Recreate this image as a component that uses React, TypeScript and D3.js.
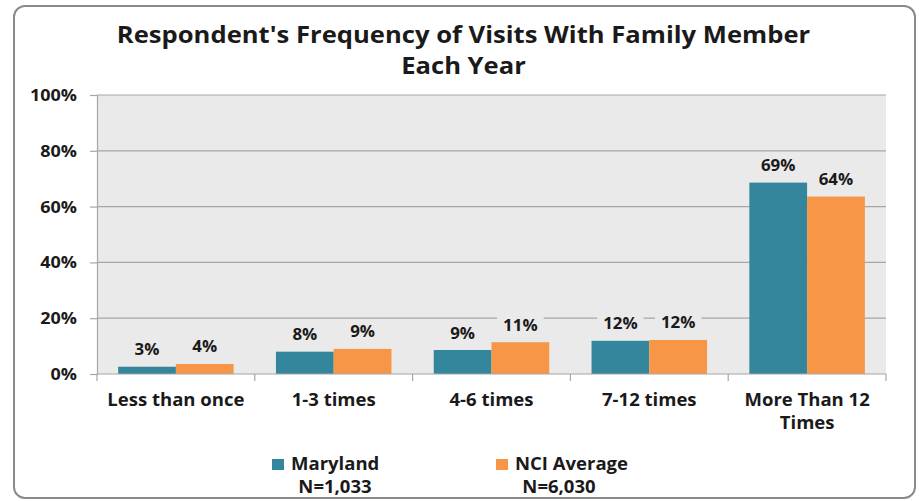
import { useEffect, useRef } from 'react';
import * as d3 from 'd3';

const categories = ['Less than once', '1-3 times', '4-6 times', '7-12 times', 'More Than 12 Times'];
const seriesNames = ['Maryland', 'NCI Average'];
const seriesN = ['N=1,033', 'N=6,030'];
const maryland = [0.026, 0.08, 0.086, 0.119, 0.686];
const nciAverage = [0.036, 0.09, 0.114, 0.122, 0.636];
const yTicks = [0, 0.2, 0.4, 0.6, 0.8, 1.0];
const titleLines = ["Respondent's Frequency of Visits With Family Member", 'Each Year'];

const colors = ['#34869c', '#f79646'];
const FONT = '"Open Sans", "DejaVu Sans", sans-serif';
const SX = 1.09; // the source text is a little wider than Open Sans

type Sel = d3.Selection<any, any, any, any>;

// bold label, stretched horizontally around its anchor point
function label(parent: Sel, x: number, y: number, txt: string, size: number, anchor = 'middle') {
  const g = parent.append('g').attr('transform', `translate(${x},${y}) scale(${SX},1)`);
  const t = g.append('text')
    .attr('text-anchor', anchor)
    .attr('font-family', FONT).attr('font-weight', 700).attr('font-size', size)
    .attr('fill', '#1a1a1a').text(txt);
  return { g, t };
}

export default function App() {
  const ref = useRef<SVGSVGElement>(null);

  useEffect(() => {
    if (!ref.current) return;
    const W = 919, H = 501;
    const plot = { left: 97, right: 886, top: 95, bottom: 374 };

    const svg = d3.select(ref.current);
    svg.selectAll('*').remove();
    svg.attr('width', W).attr('height', H).attr('viewBox', `0 0 ${W} ${H}`);

    // outer frame
    svg.append('rect')
      .attr('x', 14).attr('y', 6).attr('width', 901).attr('height', 492)
      .attr('rx', 11).attr('fill', '#fff').attr('stroke', '#8a8a8a').attr('stroke-width', 2);

    // title
    titleLines.forEach((t, i) => label(svg, 463.5, 43 + i * 31, t, 23.5));

    const x0 = d3.scaleBand<string>().domain(categories).range([plot.left, plot.right]);
    const gap = x0.bandwidth() * 0.134;
    const x1 = d3.scaleBand<string>().domain(seriesNames).range([gap, x0.bandwidth() - gap]);
    const y = d3.scaleLinear().domain([0, 1]).range([plot.bottom, plot.top]);

    const g = svg.append('g');

    g.append('rect')
      .attr('x', plot.left).attr('y', plot.top)
      .attr('width', plot.right - plot.left).attr('height', plot.bottom - plot.top)
      .attr('fill', '#eaeaea');

    // gridlines
    g.selectAll('line.grid')
      .data(yTicks.filter(t => t > 0))
      .enter().append('line')
      .attr('x1', plot.left).attr('x2', plot.right)
      .attr('y1', d => y(d)).attr('y2', d => y(d))
      .attr('stroke', '#a6a6a6').attr('stroke-width', 1.2);

    // y axis
    const yAxis = d3.axisLeft(y).tickValues(yTicks).tickFormat(() => '').tickSize(7);
    const ya = g.append('g').attr('transform', `translate(${plot.left},0)`).call(yAxis);
    ya.select('.domain').attr('stroke', '#a6a6a6').attr('stroke-width', 1.2);
    ya.selectAll('.tick line').attr('stroke', '#a6a6a6').attr('stroke-width', 1.2);
    const pct = d3.format('.0%');
    yTicks.forEach(t => label(g, 77, y(t) + 6, pct(t), 16.5, 'end'));

    // bars
    const rows = categories.map((c, i) => ({ c, vals: [maryland[i], nciAverage[i]] }));
    const grp = g.selectAll('g.cat').data(rows).enter().append('g')
      .attr('transform', d => `translate(${x0(d.c)},0)`);
    grp.selectAll('rect')
      .data(d => d.vals.map((v, k) => ({ k, v })))
      .enter().append('rect')
      .attr('x', d => x1(seriesNames[d.k])!)
      .attr('width', x1.bandwidth())
      .attr('y', d => y(d.v))
      .attr('height', d => plot.bottom - y(d.v))
      .attr('fill', d => colors[d.k]);

    // value labels, each on a box of the plot colour that breaks the gridlines
    rows.forEach(r => {
      r.vals.forEach((v, k) => {
        const cx = x0(r.c)! + x1(seriesNames[k])! + x1.bandwidth() / 2;
        const { g: lg, t } = label(g, cx, y(v) - 11.5, pct(v), 15.5);
        const w = (t.node() as SVGTextElement).getComputedTextLength();
        lg.insert('rect', 'text')
          .attr('x', -w / 2 - 6 / SX).attr('y', -17)
          .attr('width', w + 12 / SX).attr('height', 24)
          .attr('fill', '#eaeaea');
      });
    });

    // x axis
    g.append('line')
      .attr('x1', plot.left).attr('x2', plot.right)
      .attr('y1', plot.bottom).attr('y2', plot.bottom)
      .attr('stroke', '#a6a6a6').attr('stroke-width', 1.2);
    const bounds = [...categories.map(c => x0(c)!), plot.right];
    g.selectAll('line.xt').data(bounds).enter().append('line')
      .attr('x1', d => d).attr('x2', d => d)
      .attr('y1', plot.bottom).attr('y2', plot.bottom + 7)
      .attr('stroke', '#a6a6a6').attr('stroke-width', 1.2);

    categories.forEach(c => {
      const lines = c === 'More Than 12 Times' ? ['More Than 12', 'Times'] : [c];
      lines.forEach((l, i) => label(g, x0(c)! + x0.bandwidth() / 2, 405.5 + i * 23.5, l, 17));
    });

    // legend
    const legX = [272, 496];
    const nX = [335, 559];
    seriesNames.forEach((s, i) => {
      svg.append('rect').attr('x', legX[i]).attr('y', 459).attr('width', 12).attr('height', 11).attr('fill', colors[i]);
      label(svg, legX[i] + 19, 470, s, 17, 'start');
      label(svg, nX[i], 493, seriesN[i], 17);
    });
  }, []);

  return <svg ref={ref} style={{ position: 'absolute', left: 0, top: 0, display: 'block' }} />;
}
